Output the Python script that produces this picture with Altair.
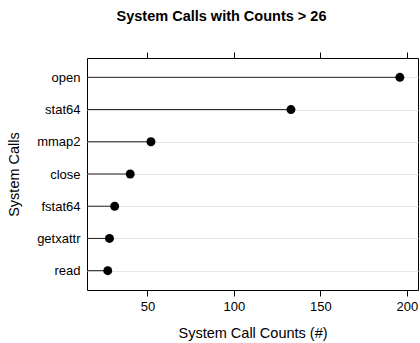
import altair as alt
import pandas as pd

calls = ["open", "stat64", "mmap2", "close", "fstat64", "getxattr", "read"]
counts = [196, 133, 52, 40, 31, 28, 27]
x_ticks = [50, 100, 150, 200]

df = pd.DataFrame({"call": calls, "count": counts})

FONT = "Liberation Sans"

x_scale = alt.Scale(domain=[15, 206.5], nice=False, zero=False)

y_enc = alt.Y(
    "call:N",
    sort=calls,
    scale=alt.Scale(type="point", padding=0.6),
    axis=alt.Axis(
        title="System Calls", grid=True, gridColor="#e6e6e6", gridWidth=1,
        ticks=False, domain=False, labelPadding=7, labelFontSize=13,
        titleFontSize=14.5, titleFontWeight="normal", titlePadding=15,
        labelColor="black", titleColor="black", labelFont=FONT, titleFont=FONT,
    ),
)

base = alt.Chart(df)

rules = base.mark_rule(color="#222222", strokeWidth=1).encode(
    x=alt.X(
        "count:Q", scale=x_scale,
        axis=alt.Axis(
            orient="bottom", values=x_ticks, title="System Call Counts (#)",
            grid=False, domain=False, tickSize=6, tickColor="black",
            labelPadding=4, labelFontSize=13, labelFont=FONT, labelColor="black",
            titleFontSize=14.5, titleFontWeight="normal", titleFont=FONT,
            titleColor="black", titlePadding=13,
        ),
    ),
    x2=alt.value(0),
    y=y_enc,
)

points = base.mark_circle(color="black", opacity=1, size=80).encode(
    x=alt.X(
        "count:Q", scale=x_scale,
        axis=alt.Axis(
            orient="top", values=x_ticks, title=None, labels=False,
            grid=False, domain=False, tickSize=6, tickColor="black",
        ),
    ),
    y=y_enc,
)

chart = (
    alt.layer(rules, points)
    .resolve_axis(x="independent")
    .properties(
        width=331,
        height=232,
        autosize="none",
        padding={"left": 87, "top": 58, "right": 2, "bottom": 53},
        background="white",
        title=alt.TitleParams(
            "System Calls with Counts > 26", fontSize=14.5, font=FONT,
            fontWeight="bold", anchor="middle", dx=-31, offset=16,
            baseline="alphabetic", color="black",
        ),
    )
    .configure_view(stroke="black", strokeWidth=1)
)

chart.save("out.html", embed_options={"renderer": "svg", "actions": False})
